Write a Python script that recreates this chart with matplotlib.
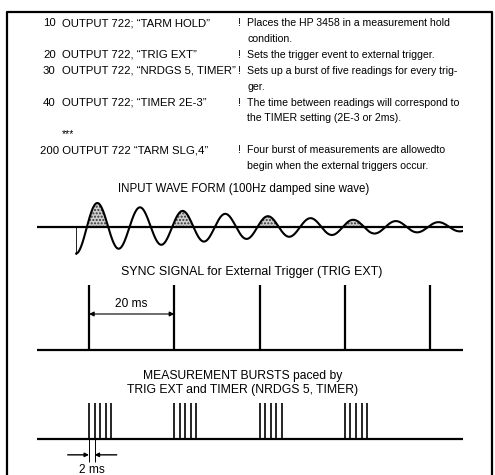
import matplotlib
matplotlib.use('Agg')
import matplotlib.pyplot as plt
import numpy as np

plt.rcParams['font.family'] = ['Liberation Sans', 'DejaVu Sans']

# program listing
line_nums = ['10', '20', '30', '40']
line_cmds = ['OUTPUT 722; \u201cTARM HOLD\u201d', 'OUTPUT 722, \u201cTRIG EXT\u201d',
             'OUTPUT 722, \u201cNRDGS 5, TIMER\u201d', 'OUTPUT 722; \u201cTIMER 2E-3\u201d']
line_notes = [['Places the HP 3458 in a measurement hold', 'condition.'],
              ['Sets the trigger event to external trigger.'],
              ['Sets up a burst of five readings for every trig-', 'ger.'],
              ['The time between readings will correspond to', 'the TIMER setting (2E-3 or 2ms).']]
last_cmd = '200 OUTPUT 722 \u201cTARM SLG,4\u201d'
last_note = ['Four burst of measurements are allowedto', 'begin when the external triggers occur.']

# signals (time in ms)
wave_freq_khz = 0.1        # 100 Hz
wave_start = -3.0
wave_amp = 24.0
wave_tau = 50.0
sync_times = [0, 20, 40, 60, 80]
burst_triggers = [0, 20, 40, 60]
burst_offsets = [0.0, 1.3, 2.6, 3.9, 5.2]   # as drawn
burst_len = 8.0            # 5 readings x 2 ms
t_left, t_right = -12.2, 87.7

W, H = 495, 475
fig = plt.figure(figsize=(W / 100, H / 100), dpi=100)
bg = fig.add_axes([0, 0, 1, 1])
bg.set_xlim(0, W)
bg.set_ylim(H, 0)
bg.set_axis_off()

# frame
bg.plot([7, 7, 492, 492], [H + 5, 12, 12, H + 5], color='black', lw=1.6)

fs = 7.6
cfs = 8.2
y = 23
step = 15.9
for num, cmd, notes in zip(line_nums, line_cmds, line_notes):
    bg.text(43, y, num, fontsize=cfs, va='center')
    bg.text(62, y, cmd, fontsize=cfs, va='center')
    bg.text(238, y, '!', fontsize=fs, va='center')
    for k, note in enumerate(notes):
        bg.text(247, y + k * step, note, fontsize=fs, va='center')
    y += step * len(notes)
bg.text(62, y, '***', fontsize=fs, va='center')
y += step
bg.text(40, y, last_cmd, fontsize=cfs, va='center')
bg.text(238, y, '!', fontsize=fs, va='center')
for k, note in enumerate(last_note):
    bg.text(247, y + k * step, note, fontsize=fs, va='center')

bg.text(244, 189, 'INPUT WAVE FORM (100Hz damped sine wave)', fontsize=8.3, ha='center', va='center')
bg.text(252, 272, 'SYNC SIGNAL for External Trigger (TRIG EXT)', fontsize=8.9, ha='center', va='center')
bg.text(243, 376, 'MEASUREMENT BURSTS paced by', fontsize=8.7, ha='center', va='center')
bg.text(243, 390, 'TRIG EXT and TIMER (NRDGS 5, TIMER)', fontsize=8.8, ha='center', va='center')


def panel(x0, x1, ytop, ybot, ylim):
    a = fig.add_axes([x0 / W, 1 - ybot / H, (x1 - x0) / W, (ybot - ytop) / H])
    a.set_xlim(t_left, t_right)
    a.set_ylim(*ylim)
    a.set_axis_off()
    a.patch.set_alpha(0)
    return a


# input wave
aw = panel(37, 463, 195, 260, (-33, 32))
t = np.linspace(wave_start, t_right, 1500)
v = -wave_amp * np.exp(-(t - 2.0) / wave_tau) * np.cos(2 * np.pi * wave_freq_khz * (t - wave_start))
aw.axhline(0, color='black', lw=1.6)
aw.plot(t, v, color='black', lw=1.5)
aw.plot([wave_start, wave_start], [0, v[0]], color='black', lw=0.6)
for tr in burst_triggers:
    m = (t >= tr) & (t <= tr + burst_len) & (v > 0)
    aw.fill_between(t, 0, v, where=m, facecolor='#cfcfcf', edgecolor='#333333',
                    hatch='.....', lw=0)

# sync signal
asy = panel(37, 463, 280, 352, (-2 / 65, 70 / 65))
asy.axhline(0, color='black', lw=1.6)
asy.vlines(sync_times, 0, 1, color='black', lw=1.6)
asy.annotate('', xy=(sync_times[0], 0.554), xytext=(sync_times[1], 0.554),
             arrowprops=dict(arrowstyle='<|-|>', color='black', lw=0.8,
                             mutation_scale=7, shrinkA=0, shrinkB=0))
asy.text((sync_times[0] + sync_times[1]) / 2, 0.71, '20 ms', fontsize=8.6,
         ha='center', va='center')

# measurement bursts
ab = panel(37, 463, 400, 475, (-1.0, 39 / 36))
ab.axhline(0, color='black', lw=1.6)
for tr in burst_triggers:
    ab.vlines([tr + o for o in burst_offsets], 0, 1, color='black', lw=1.2)
x_a = burst_triggers[0] + burst_offsets[0]
x_b = burst_triggers[0] + burst_offsets[1]
ab.vlines([x_a, x_b], -0.64, 0, color='black', lw=0.7, clip_on=False)
ab.annotate('', xy=(x_a, -0.44), xytext=(x_a - 5.0, -0.44),
            arrowprops=dict(arrowstyle='-|>', color='black', lw=1.0,
                            mutation_scale=6, shrinkA=0, shrinkB=0))
ab.annotate('', xy=(x_b, -0.44), xytext=(x_b + 5.2, -0.44),
            arrowprops=dict(arrowstyle='-|>', color='black', lw=1.0,
                            mutation_scale=6, shrinkA=0, shrinkB=0))
ab.text((x_a + x_b) / 2, -0.86, '2 ms', fontsize=8.6, ha='center', va='center')

fig.savefig('out.png', dpi=100)
